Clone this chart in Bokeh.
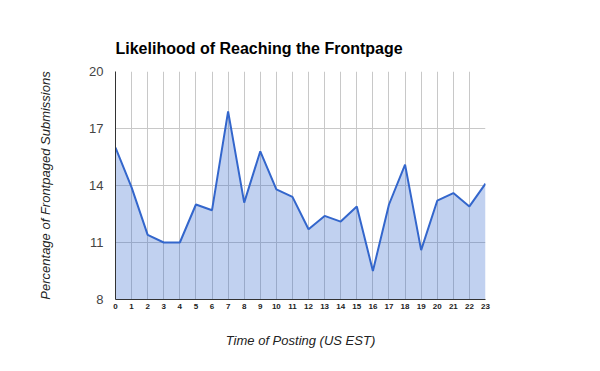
from bokeh.plotting import figure
from bokeh.models import FixedTicker, Range1d, ColumnDataSource
from bokeh.embed import file_html
from bokeh.resources import INLINE

hours = list(range(24))
hour_labels = [str(h) for h in hours]
pct = [16.0, 13.9, 11.4, 11.0, 11.0, 13.0, 12.7, 17.9, 13.1, 15.8, 13.8, 13.4,
       11.7, 12.4, 12.1, 12.9, 9.5, 13.0, 15.1, 10.6, 13.2, 13.6, 12.9, 14.1]
y_ticks = [8, 11, 14, 17, 20]

src = ColumnDataSource(dict(x=hours, y=pct, base=[y_ticks[0]] * len(hours)))

p = figure(width=584, height=355, output_backend="svg", toolbar_location=None,
           x_range=Range1d(0, 23), y_range=Range1d(8, 20),
           min_border_left=115, min_border_right=99, min_border_top=71, min_border_bottom=56)

p.title.text = "Likelihood of Reaching the Frontpage"
p.title.text_font = "Liberation Sans"
p.title.text_font_size = "16px"
p.title.text_font_style = "bold"
p.title.text_color = "#000000"
p.title.align = "left"
p.title.standoff = 29

p.outline_line_color = None
p.background_fill_color = "white"

p.varea(x="x", y1="base", y2="y", source=src, fill_color="#3366cc", fill_alpha=0.3)
p.line(x="x", y="y", source=src, line_color="#3366cc", line_width=2)

p.xaxis.ticker = FixedTicker(ticks=hours)
p.xaxis.major_label_overrides = {h: s for h, s in zip(hours, hour_labels)}
p.yaxis.ticker = FixedTicker(ticks=y_ticks)

for ax in (p.xaxis[0], p.yaxis[0]):
    ax.major_tick_line_color = None
    ax.minor_tick_line_color = None
    ax.major_tick_out = 0
    ax.major_tick_in = 0
    ax.axis_line_color = "#333333"
    ax.axis_line_width = 1
    ax.axis_label_text_font = "Liberation Sans"
    ax.axis_label_text_font_style = "italic"
    ax.axis_label_text_font_size = "13px"
    ax.axis_label_text_color = "#222222"

p.yaxis.axis_label = "Percentage of Frontpaged Submissions"
p.yaxis.major_label_text_font = "Liberation Sans"
p.yaxis.major_label_text_font_size = "13px"
p.yaxis.major_label_text_color = "#444444"
p.yaxis.major_label_standoff = 12
p.yaxis.axis_label_standoff = 33

p.xaxis.axis_label = "Time of Posting (US EST)"
p.xaxis.major_label_text_font = "Liberation Sans"
p.xaxis.major_label_text_font_size = "8px"
p.xaxis.major_label_text_font_style = "bold"
p.xaxis.major_label_text_color = "#222222"
p.xaxis.major_label_standoff = 4
p.xaxis.axis_label_standoff = 21

p.xgrid.grid_line_color = "#c8c8c8"
p.ygrid.grid_line_color = "#c8c8c8"
p.xgrid.ticker = FixedTicker(ticks=hours)
p.ygrid.ticker = FixedTicker(ticks=y_ticks)

open("out.html", "w").write(file_html(p, INLINE))
